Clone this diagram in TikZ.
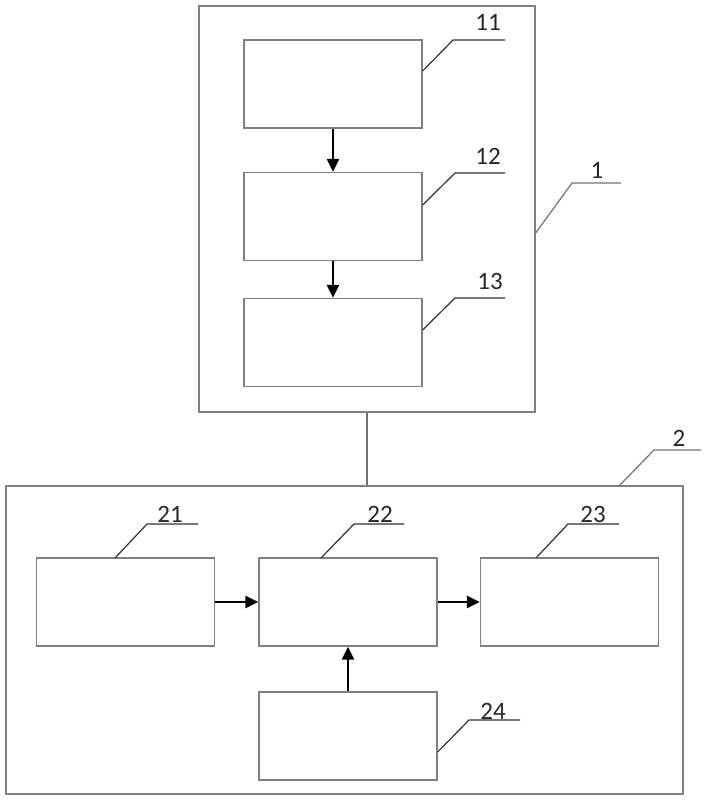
\documentclass[tikz,border=0pt]{standalone}
\usepackage{fontspec}
\setmainfont{Carlito}
\usetikzlibrary{arrows.meta,calc}
\begin{document}
\begin{tikzpicture}[x=1pt,y=-1pt,
  box/.style={draw=black!50, line width=1.3pt, inner sep=0pt, minimum width=178pt, minimum height=88pt},
  outer/.style={draw=black!50, line width=1.3pt, inner sep=0pt},
  flow/.style={line width=2.6pt, -{Triangle[length=13pt,width=12pt]}},
  lead/.style={draw=black!80, line width=1.2pt},
  leadg/.style={draw=black!55, line width=1.2pt},
  lbl/.style={font=\fontsize{25}{27}\selectfont, anchor=base, inner sep=0pt, text=black!85}]
\useasboundingbox (0,0) rectangle (708,800);
% group 1
\node[outer, minimum width=336pt, minimum height=406pt] (b1) at (367,209) {};
\node[box] (b11) at (333,84) {};
\node[box] (b12) at (333,216.5) {};
\node[box] (b13) at (333,342.5) {};
\draw[flow] (b11.south) -- (b12.north);
\draw[flow] (b12.south) -- (b13.north);
% group 2
\node[outer, minimum width=677pt, minimum height=308pt] (b2) at (344.5,640) {};
\node[box] (b21) at (125.5,602) {};
\node[box] (b22) at (348,602) {};
\node[box] (b23) at (569.5,602) {};
\node[box] (b24) at (348,736) {};
\draw[flow] (b21.east) -- (b22.west);
\draw[flow] (b22.east) -- (b23.west);
\draw[flow] (b24.north) -- (b22.south);
% link
\draw[leadg] (b1.south) -- (b1.south |- b2.north);
% leaders
\coordinate (k11) at (453,40);
\coordinate (k12) at (455,173);
\coordinate (k13) at (455,298);
\coordinate (k1) at (572,183);
\coordinate (k2) at (654,450);
\coordinate (k21) at (147,524);
\coordinate (k22) at (354,524);
\coordinate (k23) at (568,524);
\coordinate (k24) at (469,720);
\draw[lead] ([yshift=13pt]b11.east) -- (k11) -- ++(52,0);
\draw[lead] ([yshift=11.5pt]b12.east) -- (k12) -- ++(50,0);
\draw[lead] ([yshift=12.5pt]b13.east) -- (k13) -- ++(50,0);
\draw[leadg] ([yshift=-24pt]b1.east) -- (k1) -- ++(49,0);
\draw[leadg] (619,486) coordinate (s2) (s2) -- (k2) -- ++(47,0);
\draw[lead] (115,558) coordinate (s21) (s21) -- (k21) -- ++(51,0);
\draw[lead] (321,558) coordinate (s22) (s22) -- (k22) -- ++(50,0);
\draw[lead] (536,558) coordinate (s23) (s23) -- (k23) -- ++(51,0);
\draw[lead] ([yshift=-16pt]b24.east) -- (k24) -- ++(51,0);
\node[lbl] (t11) at (488,31) {11};
\node[lbl] (t12) at (488,164) {12};
\node[lbl] (t13) at (490,289) {13};
\node[lbl] (t1) at (597,178) {1};
\node[lbl] (t2) at (679,446) {2};
\node[lbl] (t21) at (170,522) {21};
\node[lbl] (t22) at (380,522) {22};
\node[lbl] (t23) at (593,522) {23};
\node[lbl] (t24) at (493,719) {24};
\end{tikzpicture}
\end{document}
